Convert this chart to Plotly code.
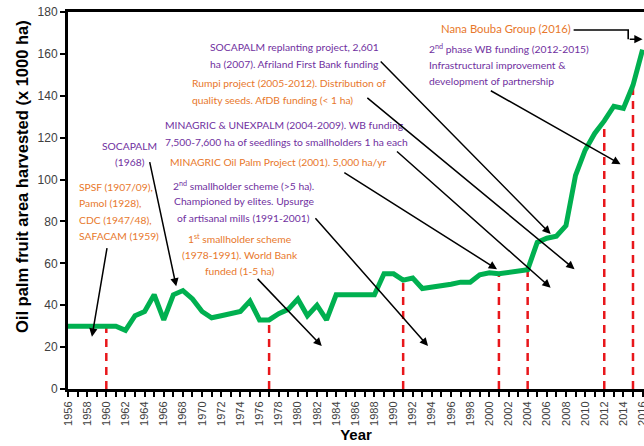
import plotly.graph_objects as go

# ---------------- data ----------------
years = list(range(1956, 2017))
area = [30, 30, 30, 30, 30, 30, 28, 35, 37, 45,
        33, 45, 47, 43, 37, 34, 35, 36, 37, 42,
        33, 33, 36, 38, 43, 35, 40, 33, 45, 45,
        45, 45, 45, 55, 55, 52, 53, 48, 48.5, 49.5,
        50, 51, 51, 54.5, 55.5, 55, 55.5, 56.5, 57, 70,
        72, 73, 78, 102, 114, 122, 128, 135, 134, 145,
        162]
event_years = [1960, 1977, 1991, 2001, 2004, 2012, 2015]
x_tick_vals = list(range(1956, 2017, 2))
x_tick_text = [str(v) for v in x_tick_vals]
y_tick_vals = [0, 20, 40, 60, 80, 100, 120, 140, 160, 180]

ORANGE = "#E8782B"
PURPLE = "#7030A0"
GREEN = "#00B050"
RED = "#E8171B"

# annotation text blocks: (lines, x, y of first line, xanchor, colour)
LINE_STEP = 7.8  # in y units between lines of a block
labels = [
    (["SPSF (1907/09),", "Pamol (1928),", "CDC (1947/48),", "SAFACAM (1959)"], 1956.9, 96.5, "left", ORANGE),
    (["SOCAPALM", "(1968)"], 1962.46, 116.0, "center", PURPLE),
    (["SOCAPALM replanting project, 2,601", "ha (2007). Afriland First Bank funding"], 1970.6, 163.2, "left", PURPLE),
    (["Rumpi project (2005-2012). Distribution of", "quality seeds. AfDB funding (&lt; 1 ha)"], 1968.7, 146.0, "left", ORANGE),
    (["MINAGRIC &amp; UNEXPALM (2004-2009). WB funding", "7,500-7,600 ha of seedlings to smallholders 1 ha each"], 1965.9, 125.9, "left", PURPLE),
    (["MINAGRIC Oil Palm Project (2001). 5,000 ha/yr"], 1966.4, 108.3, "left", ORANGE),
    (["2<sup>nd</sup> smallholder scheme (&gt;5 ha).", "Championed by elites. Upsurge", "of artisanal mills (1991-2001)"], 1974.33, 97.4, "center", PURPLE),
    (["1<sup>st</sup> smallholder scheme", "(1978-1991). World Bank", "funded (1-5 ha)"], 1974.0, 72.0, "center", ORANGE),
    (["2<sup>nd</sup> phase WB funding (2012-2015)", "Infrastructural improvement &amp;", "development of partnership"], 1993.5, 162.7, "left", PURPLE),
]
nana_text = "Nana Bouba Group (2016)"
y_title = "<b>Oil palm fruit area harvested (x 1000 ha)</b>"

# arrows: (tail_x, tail_y, head_x, head_y)
arrows = [
    (1960.1, 68, 1958.5, 25),
    (1964.5, 109, 1967.3, 49),
    (1975.65, 53.3, 1982.5, 20.5),
    (1981.7, 82.3, 1993.6, 20.5),
    (1984.7, 103.8, 2000.8, 57.2),
    (1990.2, 114, 2006.4, 48.4),
    (1987.1, 139.6, 2008.9, 57.2),
    (1988.5, 157.1, 2006.4, 74),
    (2000.0, 142.8, 2013.7, 107.3),
]
nana_path_x = [2008.8, 2014.5, 2014.5]
nana_path_y = [171.4, 171.4, 167]

fig = go.Figure()

# red dashed event lines
lookup = dict(zip(years, area))
for ev in event_years:
    fig.add_trace(go.Scatter(x=[ev, ev], y=[0, lookup[ev]], mode="lines",
                             line=dict(color=RED, width=2.5, dash="8px,6px"),
                             hoverinfo="skip", showlegend=False))

# main series
fig.add_trace(go.Scatter(x=years, y=area, mode="lines",
                         line=dict(color=GREEN, width=5),
                         showlegend=False, cliponaxis=False))

# Nana Bouba connector
fig.add_trace(go.Scatter(x=nana_path_x, y=nana_path_y, mode="lines",
                         line=dict(color="black", width=1.6),
                         hoverinfo="skip", showlegend=False, cliponaxis=False))

FONT = "Lato"
for lines, x, y0, xa, col in labels:
    for i, line in enumerate(lines):
        fig.add_annotation(x=x, y=y0 - i * LINE_STEP, xref="x", yref="y", text=line,
                           showarrow=False, xanchor=xa, yanchor="middle",
                           font=dict(family=FONT, size=10.3, color=col))

fig.add_annotation(x=2008.7, y=172.3, xref="x", yref="y", text=nana_text, showarrow=False,
                   xanchor="right", yanchor="middle",
                   font=dict(family=FONT, size=11.3, color=ORANGE))

for tx, ty, hx, hy in arrows:
    fig.add_annotation(x=hx, y=hy, ax=tx, ay=ty, xref="x", yref="y", axref="x", ayref="y",
                       text="", showarrow=True, arrowhead=2, arrowsize=1.1,
                       arrowwidth=1.5, arrowcolor="black")

fig.add_annotation(x=2016, y=nana_path_y[-1], ax=nana_path_x[-1], ay=nana_path_y[-1],
                   xref="x", yref="y", axref="x", ayref="y",
                   text="", showarrow=True, arrowhead=2, arrowsize=1.1,
                   arrowwidth=1.5, arrowcolor="black")

# y-axis title as rotated text
fig.add_annotation(
    x=(22 - 68) / 576, y=(389 - 177) / 377, xref="paper", yref="paper",
    text=y_title, showarrow=False, textangle=-90,
    xanchor="center", yanchor="middle",
    font=dict(family="Arial, Liberation Sans", size=16.5, color="black"))

fig.update_layout(
    width=644, height=446,
    margin=dict(l=68, r=0, t=12, b=57),
    paper_bgcolor="white", plot_bgcolor="white",
    font=dict(family="Arial, Liberation Sans", color="#404040"),
    xaxis=dict(
        range=[1956, 2016.15], tickmode="array", tickvals=x_tick_vals, ticktext=x_tick_text,
        tickangle=-90, tickfont=dict(size=11, color="#404040"),
        ticklabeloverflow="allow",
        ticks="outside", ticklen=5, tickwidth=2, tickcolor="black",
        minor=dict(dtick=1, ticks="outside", ticklen=5, tickwidth=2, tickcolor="black"),
        showline=True, linewidth=3, linecolor="black", mirror=True,
        showgrid=False, zeroline=False, automargin=False,
        title=dict(text="<b>Year</b>", font=dict(size=15, color="black"), standoff=4),
    ),
    yaxis=dict(
        range=[0, 180], tickmode="array", tickvals=y_tick_vals,
        tickfont=dict(size=12, color="#404040"),
        ticks="outside", ticklen=5, tickwidth=2, tickcolor="black",
        showline=True, linewidth=3, linecolor="black", mirror=False,
        showgrid=False, zeroline=False, automargin=False,
    ),
)

fig.write_html("out.html", config={"displayModeBar": False},
               post_script="document.body.style.margin='0';document.body.style.padding='0';")
